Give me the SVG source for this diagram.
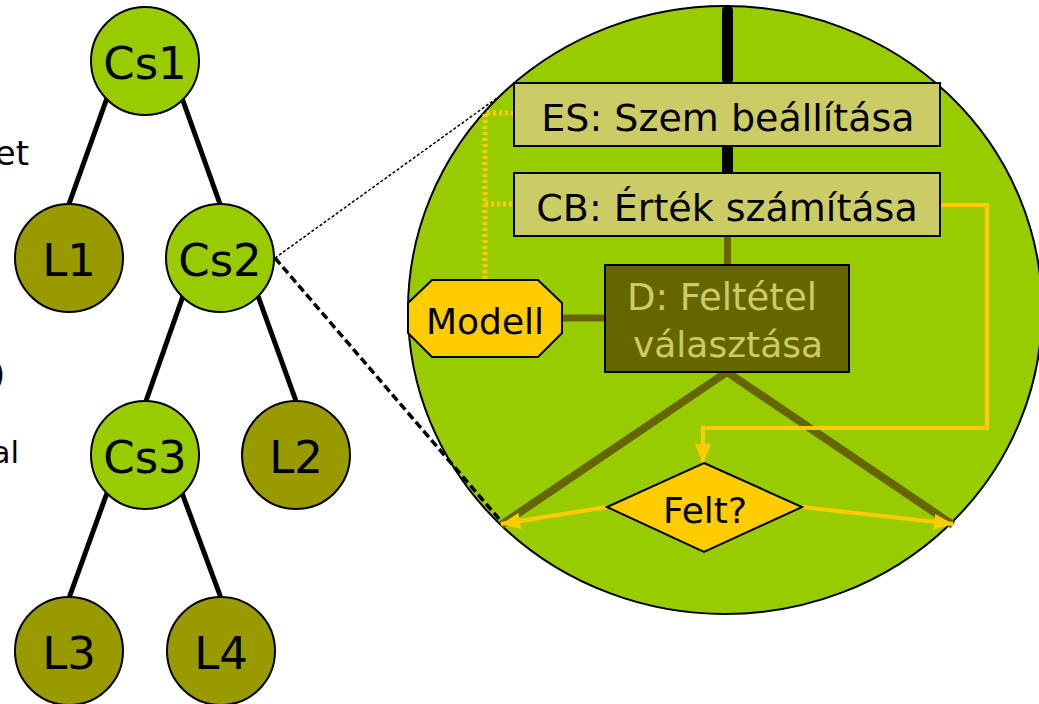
<svg xmlns="http://www.w3.org/2000/svg" width="1039" height="704" viewBox="0 0 1039 704">
<defs>
<style>
.t{font-family:"DejaVu Sans","Verdana",sans-serif;fill:#000}
.inner{fill:#99CC00;stroke:#000;stroke-width:2}
.leaf{fill:#999900;stroke:#000;stroke-width:2}
.edge{stroke:#000;stroke-width:5;fill:none}
.box{fill:#CCCC66;stroke:#000;stroke-width:2}
.yel{stroke:#FFCC00;stroke-width:4;fill:none}
.dot{stroke:#FFCC00;stroke-width:5;fill:none;stroke-dasharray:3 3}
.olive{stroke:#666600;fill:none}
.bar{stroke:#000;stroke-width:11;stroke-linecap:round}
</style>
<marker id="ya" markerUnits="userSpaceOnUse" markerWidth="20" markerHeight="16" refX="19" refY="8" orient="auto">
<path d="M0,0 L19,8 L0,16 Z" fill="#FFCC00"/>
</marker>
</defs>
<rect width="1039" height="704" fill="#fff"/>
<text class="t" x="29" y="165" font-size="34" text-anchor="end">et</text>
<text class="t" x="-8" y="386" font-size="34">)</text>
<text class="t" x="19" y="463" font-size="31" text-anchor="end">al</text>
<g id="zoom-circle">
<ellipse cx="725" cy="310" rx="317" ry="304" fill="#99CC00" stroke="#000" stroke-width="2"/>
</g>
<g id="connectors">
<line class="edge" x1="107" y1="98" x2="69" y2="204"/>
<line class="edge" x1="182" y1="98" x2="220" y2="204"/>
<line class="edge" x1="183" y1="296" x2="146" y2="401"/>
<line class="edge" x1="258" y1="296" x2="296" y2="401"/>
<line class="edge" x1="107" y1="493" x2="69" y2="598"/>
<line class="edge" x1="182" y1="493" x2="221" y2="598"/>
<line x1="275" y1="258" x2="497" y2="98" stroke="#000" stroke-width="1.5" stroke-dasharray="3 2"/>
<line x1="275" y1="258" x2="500" y2="520" stroke="#000" stroke-width="3.5" stroke-dasharray="8 4"/>
<line class="bar" x1="727.5" y1="10.5" x2="727.5" y2="79.5"/>
<line class="bar" x1="727.5" y1="147.5" x2="727.5" y2="171.5"/>
<line class="olive" stroke-width="7" x1="727.5" y1="236" x2="727.5" y2="265"/>
<line class="olive" stroke-width="7" x1="562" y1="318" x2="605" y2="318"/>
<polyline class="olive" stroke-width="8" points="501,525 727,372 953,525"/>
<polyline class="dot" points="514,113 485,113 485,280"/>
<line class="dot" x1="485" y1="204" x2="514" y2="204"/>
<polyline class="yel" points="940,205 987,205 987,428 703,428 703,463" marker-end="url(#ya)"/>
<line class="yel" x1="607" y1="507" x2="501" y2="524" marker-end="url(#ya)"/>
<line class="yel" x1="802" y1="507" x2="953" y2="524" marker-end="url(#ya)"/>
</g>
<g id="Cs1"><circle class="inner" cx="145" cy="61" r="54"/><text class="t" x="145" y="79" font-size="45" text-anchor="middle">Cs1</text></g>
<g id="L1"><circle class="leaf" cx="69" cy="258" r="54"/><text class="t" x="69" y="276" font-size="45" text-anchor="middle">L1</text></g>
<g id="Cs2"><circle class="inner" cx="220" cy="258" r="54"/><text class="t" x="220" y="276" font-size="45" text-anchor="middle">Cs2</text></g>
<g id="Cs3"><circle class="inner" cx="145" cy="455" r="54"/><text class="t" x="145" y="473" font-size="45" text-anchor="middle">Cs3</text></g>
<g id="L2"><circle class="leaf" cx="296" cy="455" r="54"/><text class="t" x="296" y="473" font-size="45" text-anchor="middle">L2</text></g>
<g id="L3"><circle class="leaf" cx="69" cy="651" r="54"/><text class="t" x="69" y="669" font-size="45" text-anchor="middle">L3</text></g>
<g id="L4"><circle class="leaf" cx="221" cy="651" r="54"/><text class="t" x="221" y="669" font-size="45" text-anchor="middle">L4</text></g>
<g id="ES"><rect class="box" x="514" y="83" width="426" height="63"/><text class="t" x="728" y="131" font-size="38" text-anchor="middle">ES: Szem beállítása</text></g>
<g id="CB"><rect class="box" x="514" y="173" width="426" height="63"/><text class="t" x="727" y="221" font-size="38" text-anchor="middle">CB: Érték számítása</text></g>
<g id="D"><rect x="605" y="265" width="244" height="107" fill="#666600" stroke="#000" stroke-width="2"/>
<text class="t" x="722" y="310" font-size="37" text-anchor="middle" style="fill:#CCCC66">D: Feltétel</text>
<text class="t" x="728" y="357" font-size="36" text-anchor="middle" style="fill:#CCCC66">választása</text></g>
<g id="Modell"><polygon points="432,280 538,280 562,303 562,333 538,357 432,357 408,333 408,303" fill="#FFCC00" stroke="#000" stroke-width="2"/><text class="t" x="485" y="334" font-size="36" text-anchor="middle">Modell</text></g>
<g id="Felt"><polygon points="704,463 802,507 704,552 607,507" fill="#FFCC00" stroke="#000" stroke-width="2"/><text class="t" x="705" y="523" font-size="36" text-anchor="middle">Felt?</text></g>
</svg>
